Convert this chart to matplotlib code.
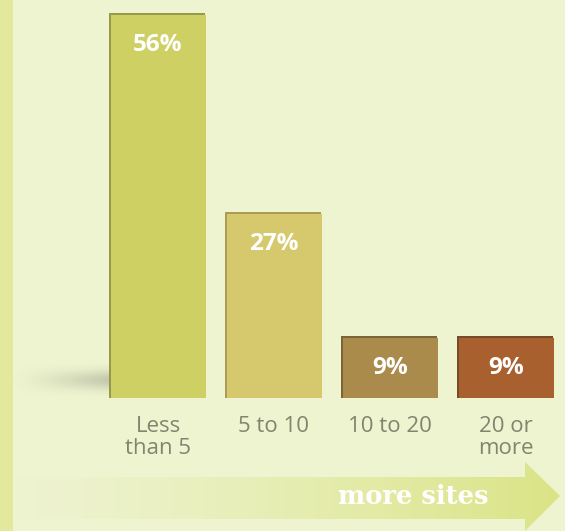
import numpy as np
import matplotlib.pyplot as plt
from matplotlib.patches import Polygon, Rectangle

# data
categories = ["Less\nthan 5", "5 to 10", "10 to 20", "20 or\nmore"]
shares = [56, 27, 9, 9]
labels = ["56%", "27%", "9%", "9%"]
bar_colors = ["#cfd064", "#d6c86c", "#aa8b4b", "#a9602f"]
edge_colors = ["#8f8f3a", "#a39445", "#6f5526", "#6a3818"]

W, H = 565, 531
bg = "#eef3d0"

fig = plt.figure(figsize=(W / 100, H / 100), dpi=100, facecolor=bg)

# backdrop layer in pixel coordinates
back = fig.add_axes([0, 0, 1, 1])
back.set_xlim(0, W)
back.set_ylim(H, 0)
back.axis("off")
back.add_patch(Rectangle((0, 0), 13, H, color="#e2e99c", lw=0))

# soft floor shadow behind the first bar
sx = np.linspace(0, 1, 200)[None, :]
sy = np.linspace(-1, 1, 60)[:, None]
alpha = 0.5 * sx ** 1.2 * np.exp(-(sy / 0.6) ** 2)
shadow = np.zeros((60, 200, 4))
shadow[..., :3] = np.array([0x9a, 0xa0, 0x8a]) / 255
shadow[..., 3] = alpha
back.imshow(shadow, extent=[13, 110, 396, 364], aspect="auto", zorder=1)

# arrow with gradient fill
arrow_pts = [(15, 477), (525, 477), (525, 462), (560, 496),
             (525, 531), (525, 519), (15, 519)]
arrow = Polygon(arrow_pts, closed=True, facecolor="none", edgecolor="none")
back.add_patch(arrow)
grad = np.linspace(0, 1, 256).reshape(1, -1) ** 1.3
c0 = np.array([0xee, 0xf3, 0xd0]) / 255
c1 = np.array([0xda, 0xe4, 0x86]) / 255
img = c0[None, None, :] * (1 - grad[..., None]) + c1[None, None, :] * grad[..., None]
im = back.imshow(img, extent=[15, 560, 531, 462], aspect="auto", zorder=1)
im.set_clip_path(arrow)
back.text(413, 497, "more sites", color="white", fontsize=18.5, fontweight="bold",
          family="DejaVu Serif", ha="center", va="center", zorder=3)

# bars
ax = fig.add_axes([100 / W, (H - 398) / H, 464 / W, 412.5 / H])
ax.patch.set_alpha(0)
ax.set_xlim(-0.5, 3.5)
ax.set_ylim(0, 60)
ax.axis("off")

x = np.arange(len(categories))
# dark side / shadow
ax.bar(x - 0.01, shares, width=0.83, color=edge_colors, alpha=0.9, zorder=2)
ax.bar(x + 0.005, [s - 0.25 for s in shares], width=0.82, color=bar_colors, zorder=3)

for xi, s, lab in zip(x, shares, labels):
    ax.text(xi, s - 4.6, lab, color="white", fontsize=17.5, fontweight="bold",
            family="Open Sans", ha="center", va="center", zorder=4)

for xi, cat in zip(x, categories):
    ax.text(xi, -2.6, cat, color="#80856f", fontsize=16, family="Open Sans",
            ha="center", va="top", linespacing=1.1, clip_on=False)

fig.savefig("out.png", dpi=100, facecolor=bg)
